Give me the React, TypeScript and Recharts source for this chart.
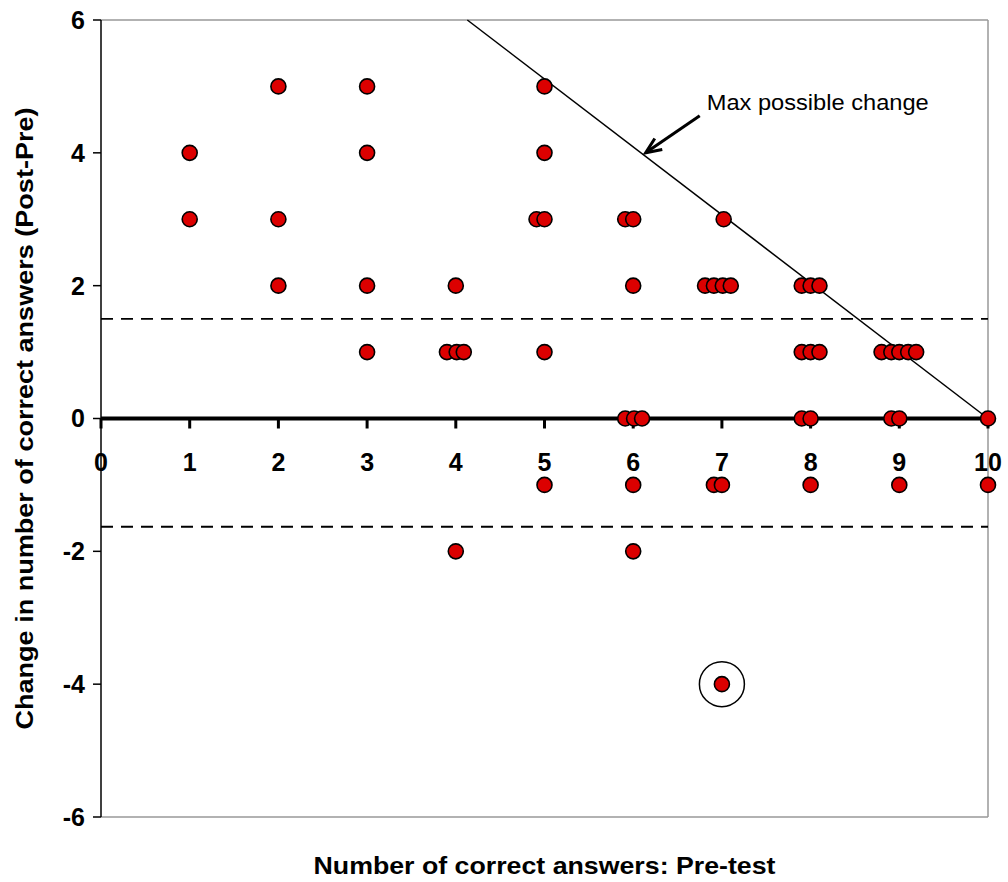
import { ScatterChart, Scatter, XAxis, YAxis, ReferenceLine, ReferenceDot } from "recharts";

// pre-test score (with slight jitter as plotted) and change post-pre
const PRE_TEST = [
  1, 1,
  2, 2, 2,
  3, 3, 3, 3,
  4, 3.9, 4.01, 4.09, 4,
  5, 5, 4.91, 5, 5, 5,
  5.91, 6, 6, 5.91, 6.01, 6.1, 6, 6,
  7.02, 6.81, 6.91, 7.01, 7.1, 6.91, 7, 7,
  7.9, 8, 8.1, 7.9, 8, 8.1, 7.9, 8, 8,
  8.8, 8.91, 9, 9.1, 9.19, 8.91, 9, 9,
  10, 10,
];
const CHANGE = [
  4, 3,
  5, 3, 2,
  5, 4, 2, 1,
  2, 1, 1, 1, -2,
  5, 4, 3, 3, 1, -1,
  3, 3, 2, 0, 0, 0, -1, -2,
  3, 2, 2, 2, 2, -1, -1, -4,
  2, 2, 2, 1, 1, 1, 0, 0, -1,
  1, 1, 1, 1, 1, 0, 0, -1,
  0, -1,
];

const X_TICKS = [0, 1, 2, 3, 4, 5, 6, 7, 8, 9, 10];
const Y_TICKS = [-6, -4, -2, 0, 2, 4, 6];
const BAND_UPPER = 1.5;
const BAND_LOWER = -1.63;
const MAX_LINE = [
  { x: 4.13, y: 6 },
  { x: 10, y: 0 },
];
const ARROW = [
  { x: 6.75, y: 4.56 },
  { x: 6.14, y: 4.0 },
];
const OUTLIER = { x: 7, y: -4 };

const points = PRE_TEST.map((x, i) => ({ x, y: CHANGE[i] }));

const FONT = "'Liberation Sans', Arial, sans-serif";

function Dot(props: any) {
  return <circle cx={props.cx} cy={props.cy} r={7.5} fill="#dc0000" stroke="#000" strokeWidth={1.6} />;
}

function XTick({ label }: { label: number }) {
  return (props: any) => (
    <g>
      <line x1={props.cx} y1={props.cy} x2={props.cx} y2={props.cy + 10} stroke="#000" strokeWidth={3} />
      <text
        x={props.cx}
        y={props.cy + 52}
        textAnchor="middle"
        fontFamily={FONT}
        fontWeight="bold"
        fontSize={25}
        fill="#000"
      >
        {label}
      </text>
    </g>
  );
}

function Arrow(props: any) {
  const { x1, y1, x2, y2 } = props;
  const ang = Math.atan2(y2 - y1, x2 - x1);
  const len = 17;
  const spread = 0.4;
  const ax = x2 - len * Math.cos(ang - spread);
  const ay = y2 - len * Math.sin(ang - spread);
  const bx = x2 - len * Math.cos(ang + spread);
  const by = y2 - len * Math.sin(ang + spread);
  return (
    <g>
      <line x1={x1} y1={y1} x2={x2 - 4 * Math.cos(ang)} y2={y2 - 4 * Math.sin(ang)} stroke="#000" strokeWidth={3} />
      <polyline points={`${ax},${ay} ${x2},${y2} ${bx},${by}`} fill="none" stroke="#000" strokeWidth={3} />
      <text
        x={x1 + 7}
        y={y1 - 6}
        fontFamily={FONT}
        fontSize={22}
        fill="#000"
        textLength={222}
        lengthAdjust="spacingAndGlyphs"
      >
        Max possible change
      </text>
    </g>
  );
}

function OutlierRing(props: any) {
  return <circle cx={props.cx} cy={props.cy} r={22.5} fill="none" stroke="#000" strokeWidth={1.5} />;
}

export default function App() {
  return (
    <div style={{ position: "absolute", left: 0, top: 0, background: "#fff" }}>
      <ScatterChart width={1008} height={882} margin={{ top: 20, right: 20, bottom: 0, left: 0 }}>
        <XAxis
          type="number"
          dataKey="x"
          domain={[0, 10]}
          ticks={X_TICKS}
          tick={false}
          tickLine={false}
          axisLine={false}
          height={65}
          label={{
            content: (p: any) => {
              const vb = p.viewBox;
              return (
                <text
                  x={vb.x + vb.width / 2}
                  y={vb.y + 57}
                  textAnchor="middle"
                  fontFamily={FONT}
                  fontWeight="bold"
                  fontSize={24}
                  fill="#000"
                  textLength={462}
                  lengthAdjust="spacingAndGlyphs"
                >
                  Number of correct answers: Pre-test
                </text>
              );
            },
          }}
        />
        <YAxis
          type="number"
          dataKey="y"
          domain={[-6, 6]}
          ticks={Y_TICKS}
          interval={0}
          width={101}
          tickSize={8}
          tickMargin={8}
          axisLine={{ stroke: "#000", strokeWidth: 1.5 }}
          tickLine={{ stroke: "#000", strokeWidth: 1.5 }}
          tick={{ fill: "#000", fontSize: 25, fontWeight: "bold", fontFamily: FONT }}
          label={{
            content: (p: any) => {
              const vb = p.viewBox;
              const cy = vb.y + vb.height / 2;
              return (
                <text
                  x={33}
                  y={cy}
                  transform={`rotate(-90, 33, ${cy})`}
                  textAnchor="middle"
                  fontFamily={FONT}
                  fontWeight="bold"
                  fontSize={24}
                  fill="#000"
                  textLength={622}
                  lengthAdjust="spacingAndGlyphs"
                >
                  Change in number of correct answers (Post-Pre)
                </text>
              );
            },
          }}
        />
        <ReferenceLine y={6} stroke="#999" strokeWidth={1.5} />
        <ReferenceLine y={-6} stroke="#999" strokeWidth={1.5} />
        <ReferenceLine x={10} stroke="#999" strokeWidth={1.5} />
        <ReferenceLine y={BAND_UPPER} stroke="#000" strokeWidth={1.8} strokeDasharray="12 8" />
        <ReferenceLine y={BAND_LOWER} stroke="#000" strokeWidth={1.8} strokeDasharray="12 8" />
        <ReferenceLine y={0} stroke="#000" strokeWidth={4} />
        {X_TICKS.map((t) => (
          <ReferenceDot key={t} x={t} y={0} r={0} shape={XTick({ label: t })} />
        ))}
        <ReferenceDot x={OUTLIER.x} y={OUTLIER.y} r={22.5} shape={OutlierRing} />
        <Scatter data={points} shape={Dot} isAnimationActive={false} />
        <ReferenceLine segment={MAX_LINE} stroke="#000" strokeWidth={1.5} />
        <ReferenceLine segment={ARROW} shape={Arrow} />
      </ScatterChart>
    </div>
  );
}
